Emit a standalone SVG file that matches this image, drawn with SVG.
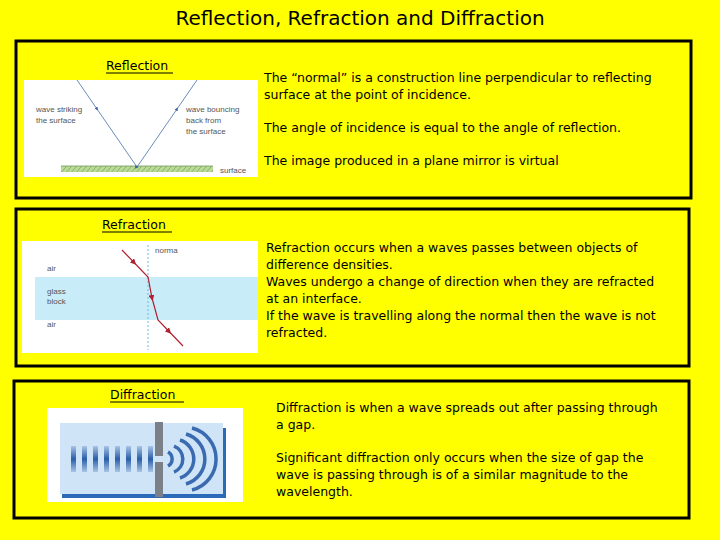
<svg xmlns="http://www.w3.org/2000/svg" width="720" height="540" viewBox="0 0 720 540">
<defs>
<style>
.t{font-family:"DejaVu Sans","Liberation Sans",sans-serif;font-size:12.5px;fill:#000}
.s{font-family:"Liberation Sans",sans-serif;font-size:8px;fill:#555}
.box{fill:none;stroke:#000;stroke-width:3}
</style>
<pattern id="h" width="5" height="6" patternUnits="userSpaceOnUse"><rect width="5" height="6" fill="#b8dc96"/><line x1="0" y1="6" x2="5" y2="0" stroke="#7a9a60" stroke-width="0.7"/></pattern>
<linearGradient id="bar" x1="0" y1="0" x2="0" y2="1"><stop offset="0" stop-color="#a9c4e6"/><stop offset="0.5" stop-color="#2a5ea8"/><stop offset="1" stop-color="#a9c4e6"/></linearGradient>
<marker id="ar" viewBox="0 0 10 10" refX="5" refY="5" markerWidth="6" markerHeight="6" orient="auto"><path d="M0,0 L10,5 L0,10 z" fill="#b02030"/></marker>
<marker id="ab" viewBox="0 0 10 10" refX="5" refY="5" markerWidth="4" markerHeight="4" orient="auto"><path d="M0,0 L10,5 L0,10 z" fill="#3a60a0"/></marker>
</defs>
<rect width="720" height="540" fill="#ffff00"/>
<text x="360" y="25" text-anchor="middle" style="font-family:'DejaVu Sans',sans-serif;font-size:20px">Reflection, Refraction and Diffraction</text>
<g id="reflection">
<rect class="box" x="16" y="41" width="675" height="157"/>
<rect x="24" y="80" width="234" height="97" fill="#fff"/>
<rect x="61" y="166" width="152" height="6" fill="url(#h)"/>
<line x1="61" y1="166" x2="213" y2="166" stroke="#7a9a60" stroke-width="0.8"/>
<polyline points="77,80 97,109 137,167 177,109 197,80" fill="none" stroke="#5a7fb0" stroke-width="0.9" marker-mid="url(#ab)"/>
<text class="s" x="36" y="112">wave striking</text><text class="s" x="36" y="123">the surface</text>
<text class="s" x="186" y="112">wave bouncing</text><text class="s" x="186" y="123">back from</text><text class="s" x="186" y="134">the surface</text>
<text class="s" x="220" y="173">surface</text>
<text class="t" x="106" y="70">Reflection</text>
<line x1="106" y1="73" x2="173" y2="73" stroke="#000"/>
<text class="t" x="264" y="82">The “normal” is a construction line perpendicular to reflecting</text>
<text class="t" x="264" y="99">surface at the point of incidence.</text>
<text class="t" x="264" y="132">The angle of incidence is equal to the angle of reflection.</text>
<text class="t" x="264" y="165">The image produced in a plane mirror is virtual</text>
</g>
<g id="refraction">
<rect class="box" x="16" y="209" width="673" height="157"/>
<rect x="22" y="241" width="236" height="112" fill="#fff"/>
<rect x="35" y="277" width="223" height="43" fill="#c8ecf8"/>
<line x1="148" y1="245" x2="148" y2="350" stroke="#6ab8e0" stroke-dasharray="2,2"/>
<polyline points="122,250 148,277 152,298 158,320 183,346" fill="none" stroke="#b02030" stroke-width="1.2"/>
<line x1="132" y1="260.4" x2="134" y2="262.5" stroke="#b02030" marker-end="url(#ar)"/>
<line x1="151.5" y1="295.5" x2="152" y2="298" stroke="#b02030" marker-end="url(#ar)"/>
<line x1="167" y1="329.4" x2="169" y2="331.5" stroke="#b02030" marker-end="url(#ar)"/>
<text class="s" x="155" y="253">norma</text>
<text class="s" x="47" y="271">air</text>
<text class="s" x="47" y="294">glass</text><text class="s" x="47" y="304">block</text>
<text class="s" x="47" y="327">air</text>
<text class="t" x="102" y="229">Refraction</text>
<line x1="102" y1="232" x2="172" y2="232" stroke="#000"/>
<text class="t" x="266" y="252">Refraction occurs when a waves passes between objects of</text>
<text class="t" x="266" y="269">difference densities.</text>
<text class="t" x="266" y="286">Waves undergo a change of direction when they are refracted</text>
<text class="t" x="266" y="303">at an interface.</text>
<text class="t" x="266" y="320">If the wave is travelling along the normal then the wave is not</text>
<text class="t" x="266" y="337">refracted.</text>
</g>
<g id="diffraction">
<rect class="box" x="14" y="381" width="675" height="137"/>
<rect x="47" y="408" width="196" height="94" fill="#fff"/>
<rect x="62" y="428" width="164" height="70" fill="#2a6ab8"/>
<rect x="60" y="423" width="163" height="71" fill="#cfe4f6"/>
<g fill="url(#bar)">
<rect x="71" y="446" width="5" height="26"/><rect x="82" y="446" width="5" height="26"/><rect x="93" y="446" width="5" height="26"/><rect x="104" y="446" width="5" height="26"/><rect x="115" y="446" width="5" height="26"/><rect x="126" y="446" width="5" height="26"/><rect x="137" y="446" width="5" height="26"/><rect x="148" y="446" width="5" height="26"/>
</g>
<rect x="155" y="422" width="8" height="34" fill="#7a7f88"/>
<rect x="155" y="462" width="8" height="35" fill="#7a7f88"/>
<g fill="none" stroke="#3a6ab0" stroke-width="3.5">
<path d="M168,452 a8,8 0 0 1 0,14"/>
<path d="M174,446 a14,14 0 0 1 0,26"/>
<path d="M180,440 a20,20 0 0 1 0,38"/>
<path d="M186,434 a26,26 0 0 1 0,50"/>
<path d="M192,428 a32,32 0 0 1 0,62"/>
</g>
<text class="t" x="110" y="399">Diffraction</text>
<line x1="110" y1="402" x2="184" y2="402" stroke="#000"/>
<text class="t" x="276" y="412">Diffraction is when a wave spreads out after passing through</text>
<text class="t" x="276" y="429">a gap.</text>
<text class="t" x="276" y="462">Significant diffraction only occurs when the size of gap the</text>
<text class="t" x="276" y="479">wave is passing through is of a similar magnitude to the</text>
<text class="t" x="276" y="496">wavelength.</text>
</g>
</svg>
